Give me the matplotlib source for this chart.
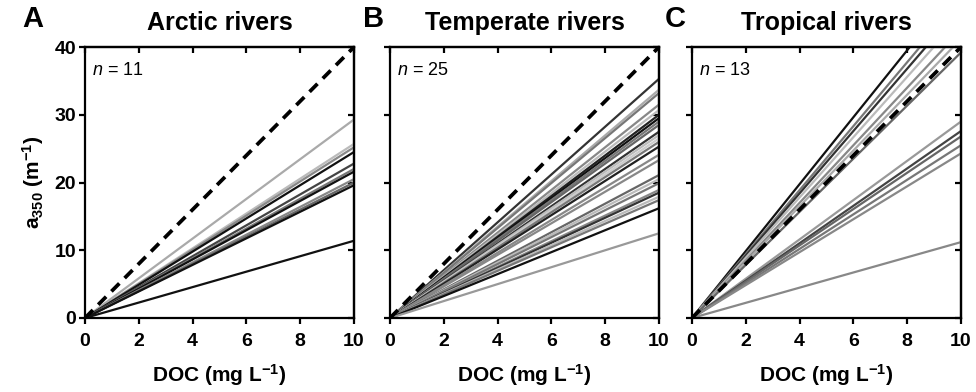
import matplotlib
matplotlib.use('Agg')
import matplotlib.pyplot as plt

plt.rcParams['font.family'] = ['Liberation Sans', 'DejaVu Sans']
plt.rcParams['mathtext.fontset'] = 'custom'
plt.rcParams['mathtext.rm'] = 'Liberation Sans'
plt.rcParams['mathtext.it'] = 'Liberation Sans:italic'
plt.rcParams['mathtext.bf'] = 'Liberation Sans:bold'

# a350 at DOC = 10 mg/L for each river (lines go through the origin)
doc = [0, 10]
arctic = [29.3, 25.7, 25.2, 24.5, 22.8, 22.0, 21.6, 20.5, 20.0, 19.6, 11.4]
temperate = [35.3, 33.7, 33.2, 31.5, 30.7, 30.0, 29.5, 29.0, 28.5, 27.5, 27.0, 26.5, 26.0,
             25.3, 24.1, 23.3, 21.1, 20.5, 19.9, 18.9, 18.5, 17.9, 17.4, 16.2, 12.5]
tropical = [49.4, 47.2, 46.0, 44.5, 42.5, 41.2, 39.2, 29.0, 27.6, 26.8, 25.5, 24.3, 11.2]
one_to_one = [0, 40]

titles = ['Arctic rivers', 'Temperate rivers', 'Tropical rivers']
letters = ['A', 'B', 'C']
n_labels = ['11', '25', '13']

# line shades
arctic_col = ['#aaaaaa', '#bbbbbb', '#888888', '#111111', '#444444', '#777777',
              '#111111', '#888888', '#666666', '#111111', '#111111']
temperate_col = ['#333333', '#aaaaaa', '#777777', '#888888', '#bbbbbb', '#222222', '#111111',
                 '#777777', '#666666', '#333333', '#bbbbbb', '#cccccc', '#777777', '#222222',
                 '#888888', '#888888', '#666666', '#bbbbbb', '#777777', '#888888', '#333333',
                 '#bbbbbb', '#777777', '#111111', '#999999']
tropical_col = ['#111111', '#777777', '#333333', '#bbbbbb', '#888888', '#aaaaaa', '#666666',
                '#999999', '#444444', '#666666', '#777777', '#888888', '#888888']

data = [arctic, temperate, tropical]
cols = [arctic_col, temperate_col, tropical_col]

fig = plt.figure(figsize=(9.76, 3.92), dpi=100)
lefts = [85 / 976, 390 / 976, 692 / 976]
w = 269 / 976
b = 1 - 318 / 392
h = 271 / 392

xt = [0, 2, 4, 6, 8, 10]
yt = [0, 10, 20, 30, 40]

for i in range(3):
    ax = fig.add_axes([lefts[i], b, w, h])
    for v, c in zip(data[i], cols[i]):
        ax.plot(doc, [0, v], color=c, lw=1.6, solid_capstyle='butt')
    ax.plot(doc, one_to_one, color='black', lw=2.7, dashes=(3, 2), zorder=5)
    ax.set_xlim(0, 10)
    ax.set_ylim(0, 40)
    ax.set_xticks(xt)
    ax.set_yticks(yt)
    for s in ax.spines.values():
        s.set_linewidth(1.6)
    ax.tick_params(width=1.6, length=4.5, labelsize=14, direction='out')
    ax.tick_params(axis='x', pad=6)
    ax.tick_params(axis='y', pad=2)
    for t in ax.get_xticklabels() + ax.get_yticklabels():
        t.set_fontweight('bold')
    if i > 0:
        ax.tick_params(axis='y', labelleft=False)

    # inward ticks on top and right spines
    top = ax.secondary_xaxis('top')
    top.set_xticks(xt)
    top.tick_params(direction='in', width=1.6, length=4.5, labeltop=False)
    top.spines['top'].set_linewidth(1.6)
    right = ax.secondary_yaxis('right')
    right.set_yticks(yt)
    right.tick_params(direction='in', width=1.6, length=4.5, labelright=False)
    right.spines['right'].set_linewidth(1.6)

    ax.set_title(titles[i], fontsize=18, fontweight='bold', pad=12)
    ax.set_xlabel('DOC (mg L$^{\\mathbf{-1}}$)', fontsize=15, fontweight='bold', labelpad=9)
    ax.text(0.025, 0.945, '$\\it{n}$ = ' + n_labels[i], transform=ax.transAxes,
            fontsize=13, va='top', ha='left')
    ax.text(-0.235 if i == 0 else -0.1, 1.105, letters[i], transform=ax.transAxes,
            fontsize=21, fontweight='bold', va='center', ha='left')
    if i == 0:
        ax.set_ylabel('a$_{\\mathbf{350}}$ (m$^{\\mathbf{-1}}$)', fontsize=15,
                      fontweight='bold', labelpad=6)

fig.savefig('out.png', dpi=100)
